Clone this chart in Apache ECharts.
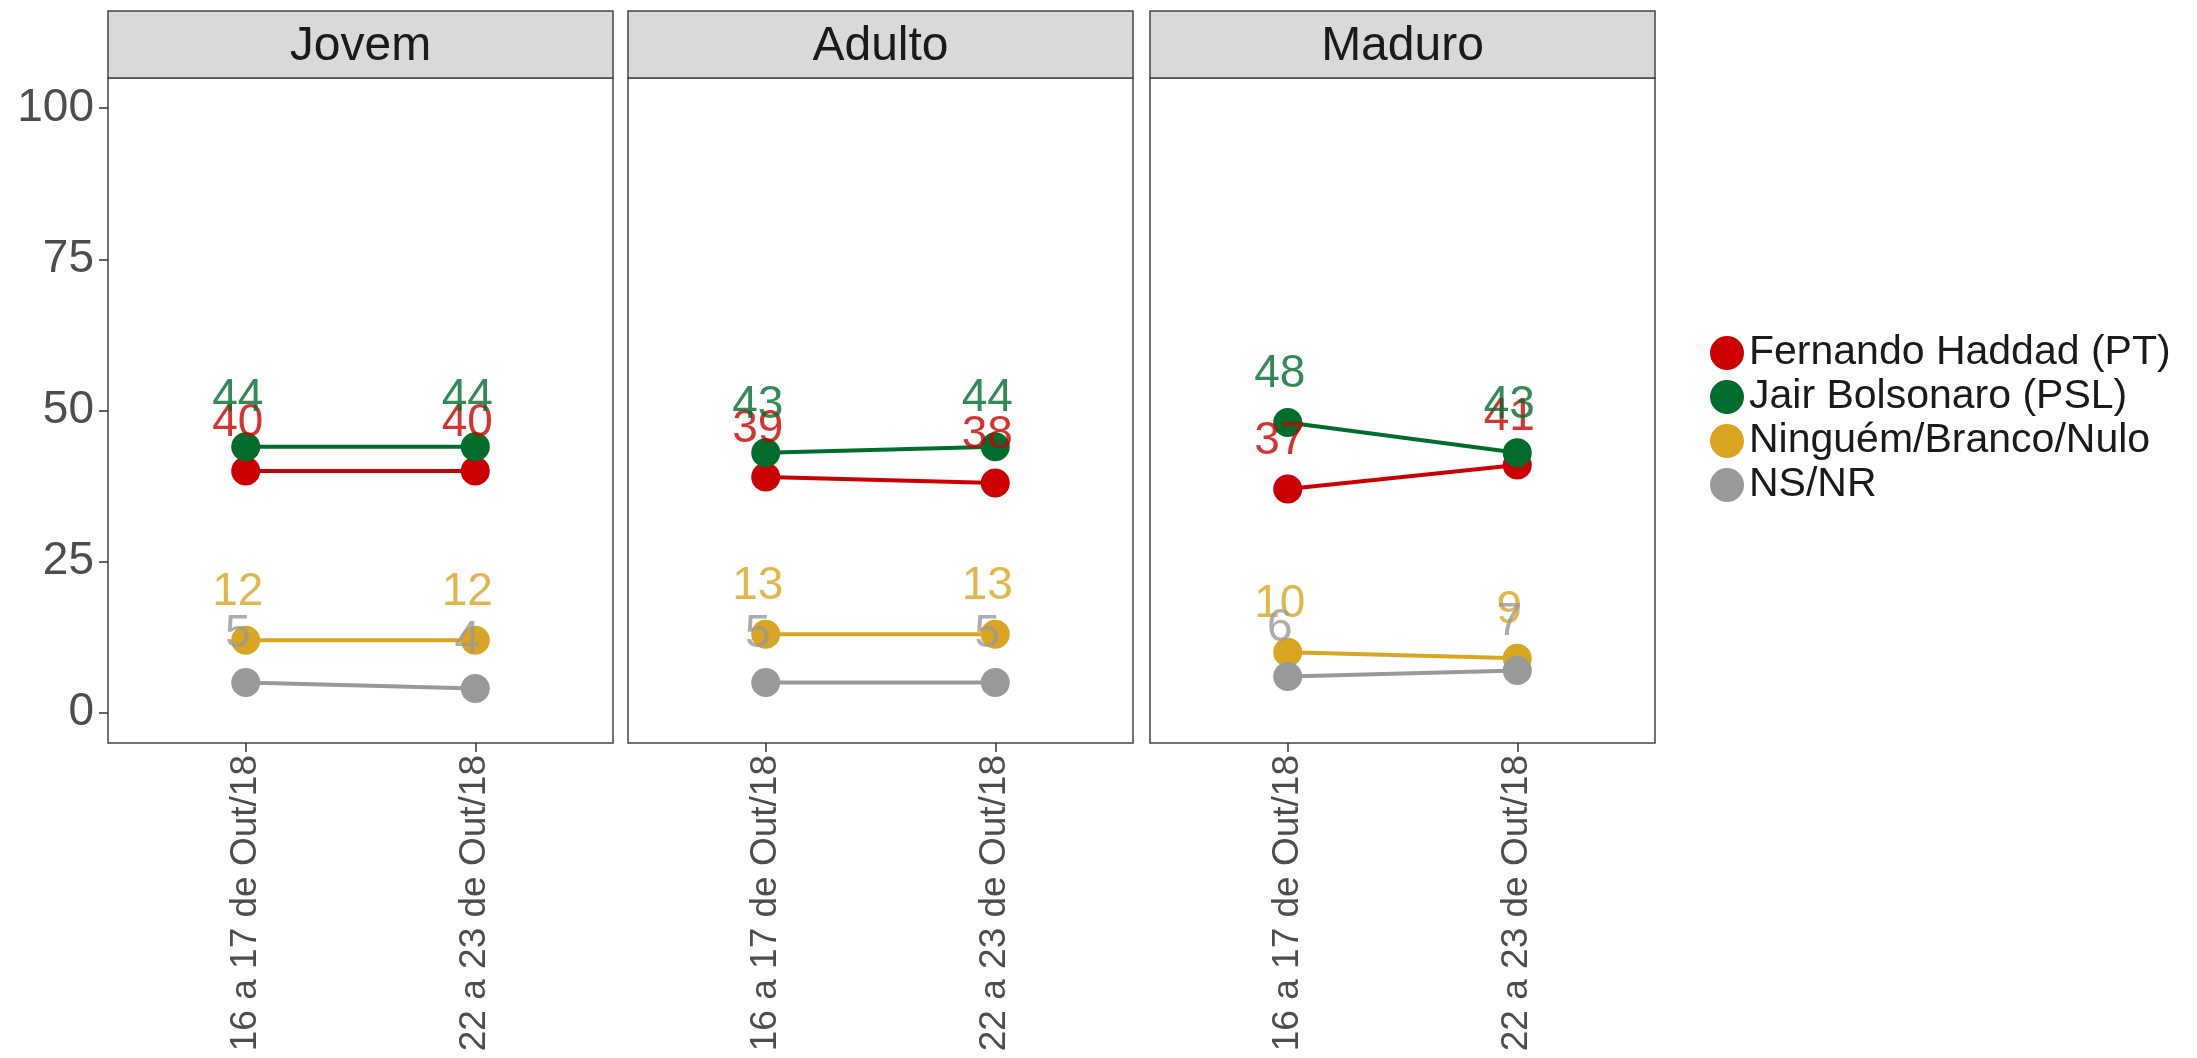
<!DOCTYPE html>
<html>
<head>
<meta charset="utf-8">
<script src="https://cdn.jsdelivr.net/npm/echarts@6/dist/echarts.min.js"></script>
<style>
  html, body { margin: 0; padding: 0; background: #fff; }
  #container { width: 2197px; height: 1058px; }
</style>
</head>
<body>
<div id="container"></div>
<script>
var dom = document.getElementById("container");
var myChart = echarts.init(dom);

// dados
var periodos = ['16 a 17 de Out/18', '22 a 23 de Out/18'];
var faixas = ['Jovem', 'Adulto', 'Maduro'];
var candidatos = ['Fernando Haddad (PT)', 'Jair Bolsonaro (PSL)', 'Ninguém/Branco/Nulo', 'NS/NR'];
var cores = ['#cc0000', '#006d2c', '#daa520', '#999999'];

var haddad = [[40, 40], [39, 38], [37, 41]];
var bolsonaro = [[44, 44], [43, 44], [48, 43]];
var nulo = [[12, 12], [13, 13], [10, 9]];
var nsnr = [[5, 4], [5, 5], [6, 7]];
var valores = [haddad, bolsonaro, nulo, nsnr];

var yTicks = [0, 25, 50, 75, 100];

// layout dos paineis
var painelLeft = [108, 628, 1150];
var painelW = 505;
var painelTop = 78;
var painelH = 665;
var fonte = 'Liberation Sans, Arial, sans-serif';

var grids = [], xAxes = [], yAxes = [], series = [], graphics = [];

for (var p = 0; p < faixas.length; p++) {
    grids.push({
        left: painelLeft[p], top: painelTop, width: painelW, height: painelH,
        show: true, borderColor: '#444', borderWidth: 1.5, backgroundColor: '#fff'
    });
    xAxes.push({
        gridIndex: p, type: 'value', min: 0.4, max: 2.6,
        axisLine: { show: false, onZero: false },
        splitLine: { show: false },
        axisTick: { show: true, customValues: [1, 2], length: 9, lineStyle: { color: '#333', width: 1.5 } },
        axisLabel: {
            customValues: [1, 2], rotate: 90, margin: 12,
            fontSize: 37, color: '#4d4d4d', fontFamily: fonte,
            formatter: function (v) { return periodos[Math.round(v) - 1]; }
        }
    });
    yAxes.push({
        gridIndex: p, type: 'value', min: -5, max: 105,
        axisLine: { show: false, onZero: false },
        splitLine: { show: false },
        axisTick: { show: p === 0, customValues: yTicks, length: 9, lineStyle: { color: '#333', width: 1.5 } },
        axisLabel: {
            show: p === 0, customValues: yTicks, margin: 14,
            fontSize: 46, color: '#4d4d4d', fontFamily: fonte
        }
    });

    for (var s = 0; s < candidatos.length; s++) {
        var pts = valores[s][p].map(function (v, i) { return [i + 1, v]; });
        series.push({
            name: candidatos[s], type: 'line',
            xAxisIndex: p, yAxisIndex: p,
            data: pts, color: cores[s],
            symbol: 'circle', symbolSize: 29,
            lineStyle: { width: 4, color: cores[s] },
            itemStyle: { color: cores[s] },
            z: 2 + s * 0.01,
            silent: true, animation: false
        });
    }
    for (var s = 0; s < candidatos.length; s++) {
        var pts = valores[s][p].map(function (v, i) { return [i + 1, v]; });
        series.push({
            name: candidatos[s], type: 'scatter',
            xAxisIndex: p, yAxisIndex: p,
            data: pts, symbolSize: 0,
            z: 10,
            label: {
                show: true, position: 'inside', offset: [-8, -48],
                formatter: function (d) { return d.value[1]; },
                fontSize: 46, color: cores[s], fontFamily: fonte
            },
            silent: true, animation: false
        });
    }

    // faixa do painel (strip)
    graphics.push({
        type: 'rect',
        shape: { x: painelLeft[p], y: 11, width: painelW, height: painelTop - 11 },
        style: { fill: '#d9d9d9', stroke: '#444', lineWidth: 1.5 }
    });
    graphics.push({
        type: 'text',
        x: painelLeft[p] + painelW / 2, y: 47,
        style: {
            text: faixas[p], fontSize: 48, fill: '#1a1a1a', fontFamily: fonte,
            align: 'center', verticalAlign: 'middle'
        }
    });
}

option = {
    backgroundColor: '#fff',
    animation: false,
    grid: grids,
    xAxis: xAxes,
    yAxis: yAxes,
    legend: {
        data: candidatos,
        orient: 'vertical',
        left: 1705, top: 326,
        icon: 'circle', itemWidth: 34, itemHeight: 34, itemGap: 0,
        textStyle: { fontSize: 41, color: '#1a1a1a', fontFamily: fonte, lineHeight: 44 },
        selectedMode: false
    },
    graphic: graphics,
    series: series
};

myChart.setOption(option, true);
</script>
</body>
</html>
